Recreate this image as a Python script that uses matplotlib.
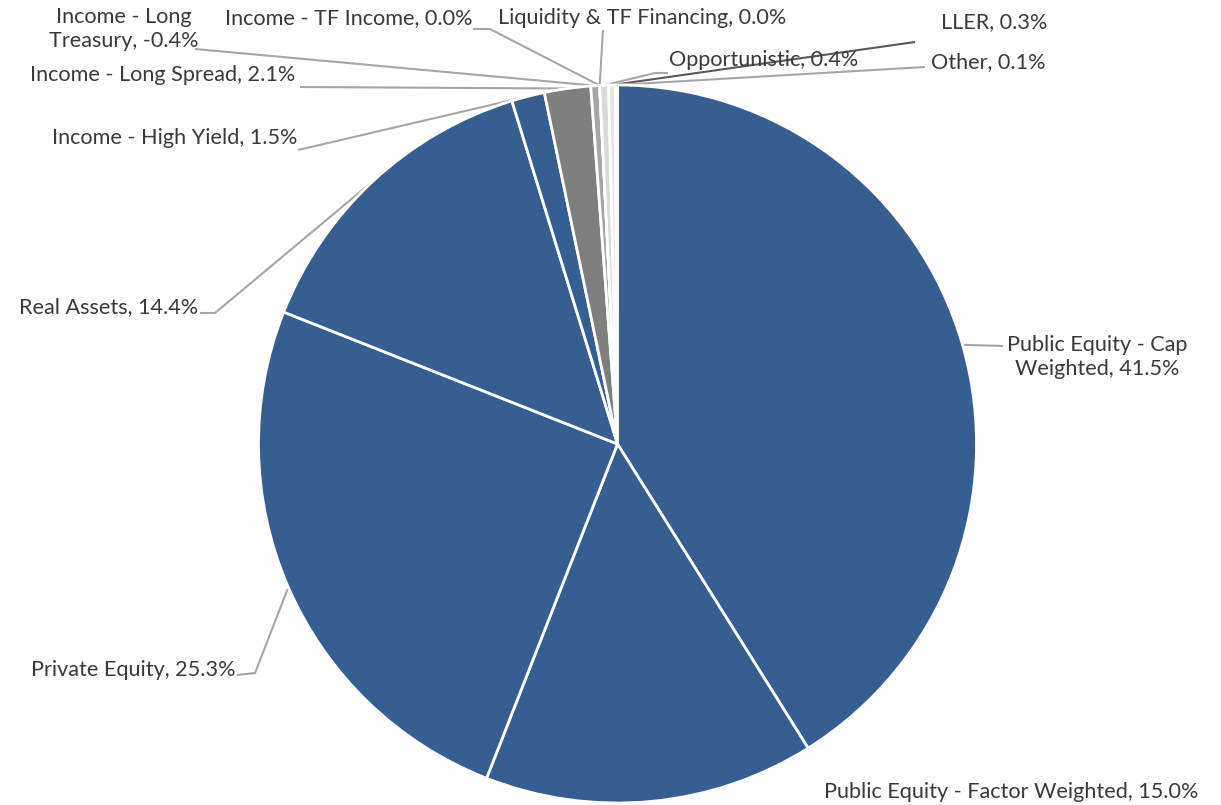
import numpy as np
import matplotlib

matplotlib.use("Agg")
import matplotlib.pyplot as plt

# ---------------------------------------------------------------- data
labels = [
    "Public Equity - Cap\nWeighted",
    "Public Equity - Factor Weighted",
    "Private Equity",
    "Real Assets",
    "Income - High Yield",
    "Income - Long Spread",
    "Income - Long\nTreasury",
    "Income - TF Income",
    "Liquidity & TF Financing",
    "Opportunistic",
    "LLER",
    "Other",
]
values = [41.5, 15.0, 25.3, 14.4, 1.5, 2.1, -0.4, 0.0, 0.0, 0.4, 0.3, 0.1]
colors = ["#365E91"] * 5 + ["#7F7F7F", "#A6A6A6", "#BFBFBF", "#CFCFCF",
                            "#D9D9D9", "#E4E4E4", "#EDEDED"]

# ---------------------------------------------------------------- layout (pixels)
W, H = 1221, 805
CX, CY, R = 617.5, 444, 359

# text centre (px, y down) and elbow points of the leader (px)
label_layout = [
    ((1097, 357), [(1003, 346)]),
    ((1011, 792), [(655, 800)]),
    ((133, 670), [(237, 675), (255, 673)]),
    ((109, 307), [(200, 313), (215, 313)]),
    ((175, 138), [(298, 150)]),
    ((163, 75), [(300, 87)]),
    ((124, 29), [(195, 49)]),
    ((349, 18), [(473, 29), (490, 29)]),
    ((642, 18), [(603, 30)]),
    ((764, 60), [(668, 73), (655, 73)]),
    ((994, 22), [(915, 42)]),
    ((988, 62), [(925, 67)]),
]


def to_data(p):
    return p[0], H - p[1]


fig = plt.figure(figsize=(W / 100, H / 100), dpi=100)
ax = fig.add_axes([0, 0, 1, 1])

wedges, _ = ax.pie(
    np.abs(values),  # negative slice drawn by its size, labelled with its sign
    colors=colors,
    startangle=90,
    counterclock=False,
    center=(CX, H - CY),
    radius=R,
    wedgeprops=dict(edgecolor="white", linewidth=2),
)
# pie() resets limits, so fix the pixel frame afterwards
ax.set_xlim(0, W)
ax.set_ylim(0, H)
ax.set_aspect("equal")
ax.axis("off")

for w, lab, val, (tpos, elbows) in zip(wedges, labels, values, label_layout):
    mid = np.deg2rad((w.theta1 + w.theta2) / 2)
    edge = (CX + R * np.cos(mid), H - CY + R * np.sin(mid))
    pts = [to_data(p) for p in elbows] + [edge]
    xs, ys = zip(*pts)
    lc = "#595959" if lab == "LLER" else "#A6A6A6"
    ax.plot(xs, ys, color=lc, lw=1.5, zorder=0, solid_capstyle="butt")
    tx, ty = to_data(tpos)
    ax.text(tx, ty, f"{lab}, {val:.1f}%", ha="center", va="center",
            fontsize=15.6, family="Lato", color="#3A3A3A", linespacing=1.25)

fig.savefig("out.png", dpi=100)
